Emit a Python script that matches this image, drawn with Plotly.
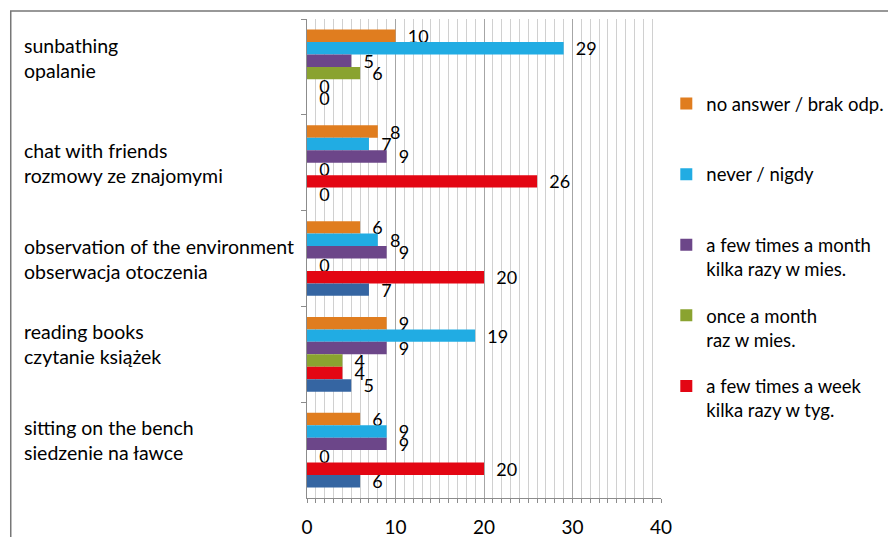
import plotly.graph_objects as go

# ---- data ----
categories_en = ["sunbathing", "chat with friends", "observation of the environment",
                 "reading books", "sitting on the bench"]
categories_pl = ["opalanie", "rozmowy ze znajomymi", "obserwacja otoczenia",
                 "czytanie książek", "siedzenie na ławce"]
series_names = ["no answer / brak odp.<br>\u00a0",
                "never / nigdy<br>\u00a0",
                "a few times a month<br>kilka razy w mies.",
                "once a month<br>raz w mies.",
                "a few times a week<br>kilka razy w tyg.",
                "every day / codziennie"]
no_answer = [10, 8, 6, 9, 6]
never = [29, 7, 8, 19, 9]
few_month = [5, 9, 9, 9, 9]
once_month = [6, 0, 0, 4, 0]
few_week = [0, 26, 20, 4, 20]
every_day = [0, 0, 7, 5, 6]
x_ticks = [0, 10, 20, 30, 40]

# ---- style ----
colors = ["#E07D1F", "#21ACE3", "#6C4689", "#8AA330", "#E30613", "#3565A2"]
show_in_legend = [True, True, True, True, True, False]
label_shift = [9, 0, 0, 10, 10]
FONT = "Lato"
FS_TEXT = 19.5
FS_LEG = 18.5
FS_NUM = 18

series_values = [no_answer, never, few_month, once_month, few_week, every_day]

fig = go.Figure()
for i, (name, vals) in enumerate(zip(series_names, series_values)):
    fig.add_trace(go.Bar(
        y=categories_en, x=vals, orientation="h", name=name,
        marker=dict(color=colors[i], line=dict(width=0)),
        text=["\u00a0\u00a0" + str(v) for v in vals],
        textposition="outside", constraintext="none", cliponaxis=False,
        textfont=dict(family=FONT, size=FS_NUM, color="#000000"),
        showlegend=show_in_legend[i], legendgroup=f"g{i}",
    ))

# page has an 8px body margin: figure pixel = window pixel - 8
OFF = 8
W, H = 896 - 2 * OFF, 545 - 2 * OFF
plot_left, plot_right, plot_top, plot_bottom = 307 - OFF, 660.7 - OFF, 19 - OFF, 498 - OFF
L, R, T, B = plot_left, W - plot_right, plot_top, H - plot_bottom
pw = plot_right - plot_left
ph = plot_bottom - plot_top

def px_x(px):
    return (px - OFF - plot_left) / pw

def px_y(py):
    return (plot_bottom - (py - OFF)) / ph

for en, pl, sh in zip(categories_en, categories_pl, label_shift):
    fig.add_annotation(
        x=px_x(22), xref="paper", y=en, yref="y", xanchor="left", yanchor="middle",
        align="left", text=en + "<br>" + pl, showarrow=False, yshift=sh,
        font=dict(family=FONT, size=FS_TEXT, color="#000000"),
    )

fig.add_shape(type="rect", xref="paper", yref="paper",
              x0=px_x(11), x1=px_x(920), y0=px_y(570), y1=px_y(11),
              line=dict(color="#777777", width=1.5), layer="below")

fig.update_layout(
    width=W, height=H,
    margin=dict(l=L, r=R, t=T, b=B, pad=0, autoexpand=False),
    paper_bgcolor="white", plot_bgcolor="white",
    barmode="group", bargap=0.22, bargroupgap=0,
    font=dict(family=FONT, size=FS_TEXT, color="#000000"),
    legend=dict(x=px_x(666), xanchor="left", y=px_y(85), yanchor="top",
                traceorder="grouped", tracegroupgap=19.5, valign="top",
                font=dict(family=FONT, size=FS_LEG, color="#000000"),
                bgcolor="rgba(0,0,0,0)"),
    xaxis=dict(range=[0, 40], tickvals=x_ticks, showgrid=True, gridcolor="#A6A6A6",
               gridwidth=1, zeroline=False, showline=True, linecolor="#8C8C8C",
               ticks="outside", ticklen=4, tickcolor="#8C8C8C", ticklabelstandoff=8,
               automargin=False,
               minor=dict(dtick=1, showgrid=True, gridcolor="#D0D0D0", ticks="outside",
                          ticklen=4, tickcolor="#8C8C8C"),
               tickfont=dict(family=FONT, size=FS_NUM + 1, color="#000000")),
    yaxis=dict(type="category", autorange="reversed", showgrid=False, showline=True,
               linecolor="#8C8C8C", ticks="outside", tickson="boundaries", ticklen=5,
               tickcolor="#8C8C8C", showticklabels=False, automargin=False),
)

fig.write_html("out.html")
